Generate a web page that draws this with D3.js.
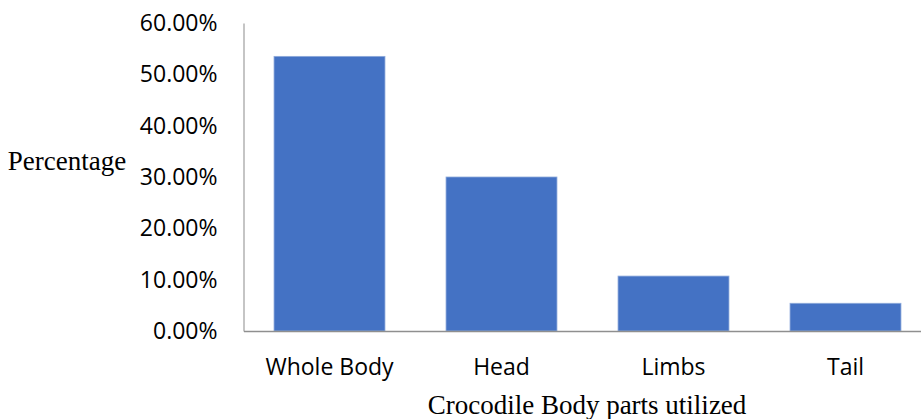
<!DOCTYPE html>
<html>
<head>
<meta charset="utf-8">
<script src="https://cdn.jsdelivr.net/npm/d3@7"></script>
<style>
  html, body { margin: 0; padding: 0; background: #fff; }
  svg { display: block; }
</style>
</head>
<body>
<svg id="chart" width="921" height="419"></svg>
<script>
// Share of crocodile body parts utilized
const categories = ["Whole Body", "Head", "Limbs", "Tail"];
const values = [0.535, 0.30, 0.107, 0.054];
const yTicks = [0, 0.1, 0.2, 0.3, 0.4, 0.5, 0.6];

const svg = d3.select("#chart");
const sansFont = "'Open Sans', 'Liberation Sans', sans-serif";
const serifFont = "'Liberation Serif', 'Times New Roman', serif";

const x = d3.scaleBand()
  .domain(categories)
  .range([243.5, 931.5])
  .paddingInner(0.355)
  .paddingOuter(0.1775);

const y = d3.scaleLinear()
  .domain([0, 0.6])
  .range([331, 23]);

// bars
svg.append("g")
  .selectAll("rect")
  .data(categories)
  .join("rect")
  .attr("x", d => x(d))
  .attr("width", x.bandwidth())
  .attr("y", (d, i) => y(values[i]))
  .attr("height", (d, i) => y(0) - y(values[i]))
  .attr("fill", "#4472c4")
  .attr("stroke", "#8eaadb")
  .attr("stroke-width", 0.8);

// y axis
const yAxis = svg.append("g")
  .attr("transform", "translate(243.5,0)")
  .call(d3.axisLeft(y).tickValues(yTicks).tickSize(0).tickPadding(26)
    .tickFormat(d => (d * 100).toFixed(2) + "%"));
yAxis.select(".domain").attr("stroke", "#a6a6a6").attr("stroke-width", 1.3);
yAxis.selectAll("text")
  .attr("font-family", sansFont)
  .attr("font-size", 23)
  .attr("fill", "#000");

// x axis
const xAxis = svg.append("g")
  .attr("transform", "translate(0,331)")
  .call(d3.axisBottom(x).tickSize(0).tickPadding(28));
xAxis.select(".domain").attr("stroke", "#8f8f8f").attr("stroke-width", 1.5);
xAxis.selectAll("text")
  .attr("font-family", sansFont)
  .attr("font-size", 23)
  .attr("fill", "#000");

// axis titles
svg.append("text")
  .attr("x", 67)
  .attr("y", 170)
  .attr("text-anchor", "middle")
  .attr("font-family", serifFont)
  .attr("font-size", 27)
  .attr("fill", "#000")
  .text("Percentage");

svg.append("text")
  .attr("x", 587)
  .attr("y", 414)
  .attr("text-anchor", "middle")
  .attr("font-family", serifFont)
  .attr("font-size", 27)
  .attr("fill", "#000")
  .text("Crocodile Body parts utilized");
</script>
</body>
</html>
